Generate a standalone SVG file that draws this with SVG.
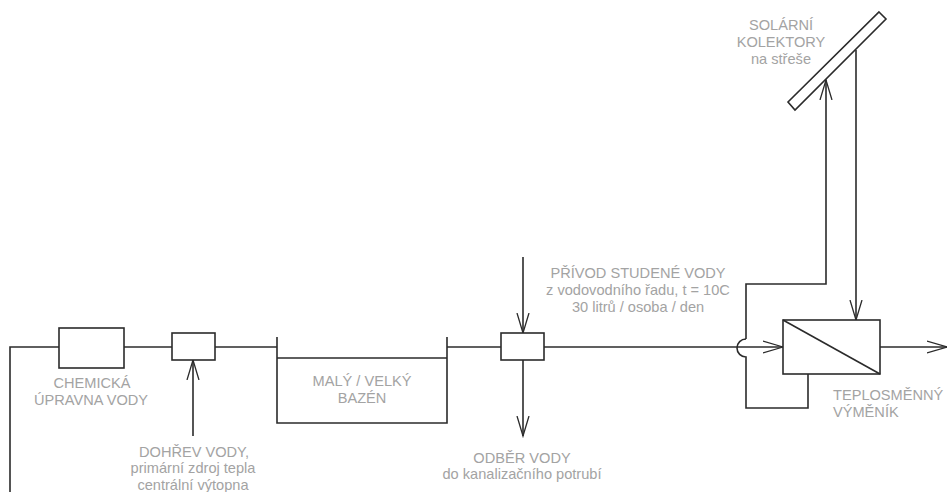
<svg xmlns="http://www.w3.org/2000/svg" width="947" height="492" viewBox="0 0 947 492">
<style>
.l{fill:none;stroke:#2b2b2b;stroke-width:1.6}
.b{fill:#fff;stroke:#2b2b2b;stroke-width:1.6}
text{font-family:"Liberation Sans",Arial,sans-serif;font-size:14.6px;fill:#a3a3a3;text-anchor:middle}
.s{text-anchor:start}
</style>
<defs>
<marker id="a" markerUnits="userSpaceOnUse" markerWidth="22" markerHeight="16" refX="20" refY="8" orient="auto"><path d="M0 2L20 8L0 14" fill="none" stroke="#2b2b2b" stroke-width="1.300"/></marker>
</defs>
<rect width="947" height="492" fill="#fff"/>
<g id="connectors">
<path class="l" d="M10 492V347H59"/>
<path class="l" d="M124 347H172"/>
<path class="l" d="M215 347H277"/>
<path class="l" d="M447 347H501"/>
<path class="l" d="M544 347H783" marker-end="url(#a)"/>
<path class="l" d="M193 436V360" marker-end="url(#a)"/>
<path class="l" d="M523 257V333" marker-end="url(#a)"/>
<path class="l" d="M523 360V436" marker-end="url(#a)"/>
<path class="l" d="M880 347H947" marker-end="url(#a)"/>
<path class="l" d="M746 339V284H826V80" marker-end="url(#a)"/>
<path class="l" d="M856 50V320" marker-end="url(#a)"/>
<path class="l" d="M746 339A9 9 0 0 0 746 357V408H808V374"/>
</g>
<g id="solar"><path class="b" d="M879 12L886 19L795 110L788 102Z"/>
<text x="781" y="30">SOLÁRNÍ</text><text x="781" y="47">KOLEKTORY</text><text x="781" y="64">na střeše</text></g>
<g id="exchanger"><rect class="b" x="783" y="320" width="97" height="54"/><path class="l" d="M783 320L880 374"/>
<text class="s" x="833" y="400">TEPLOSMĚNNÝ</text><text class="s" x="833" y="417">VÝMĚNÍK</text></g>
<g id="chem"><rect class="b" x="59" y="328" width="65" height="40"/>
<text x="92" y="388">CHEMICKÁ</text><text x="91" y="405">ÚPRAVNA VODY</text></g>
<g id="heat"><rect class="b" x="172" y="333" width="43" height="27"/>
<text x="194" y="457">DOHŘEV VODY,</text><text x="193" y="473">primární zdroj tepla</text><text x="193" y="490">centrální výtopna</text></g>
<g id="pool"><path class="l" d="M277 337V423H447V337M277 358H447"/>
<text x="362" y="386">MALÝ / VELKÝ</text><text x="362" y="403">BAZÉN</text></g>
<g id="mixer"><rect class="b" x="501" y="333" width="43" height="27"/></g>
<g id="supply"><text x="638" y="278">PŘÍVOD STUDENÉ VODY</text><text x="638" y="295">z vodovodního řadu, t = 10C</text><text x="638" y="312">30 litrů / osoba / den</text></g>
<g id="drain"><text x="522" y="463">ODBĚR VODY</text><text x="522" y="479">do kanalizačního potrubí</text></g>
</svg>
